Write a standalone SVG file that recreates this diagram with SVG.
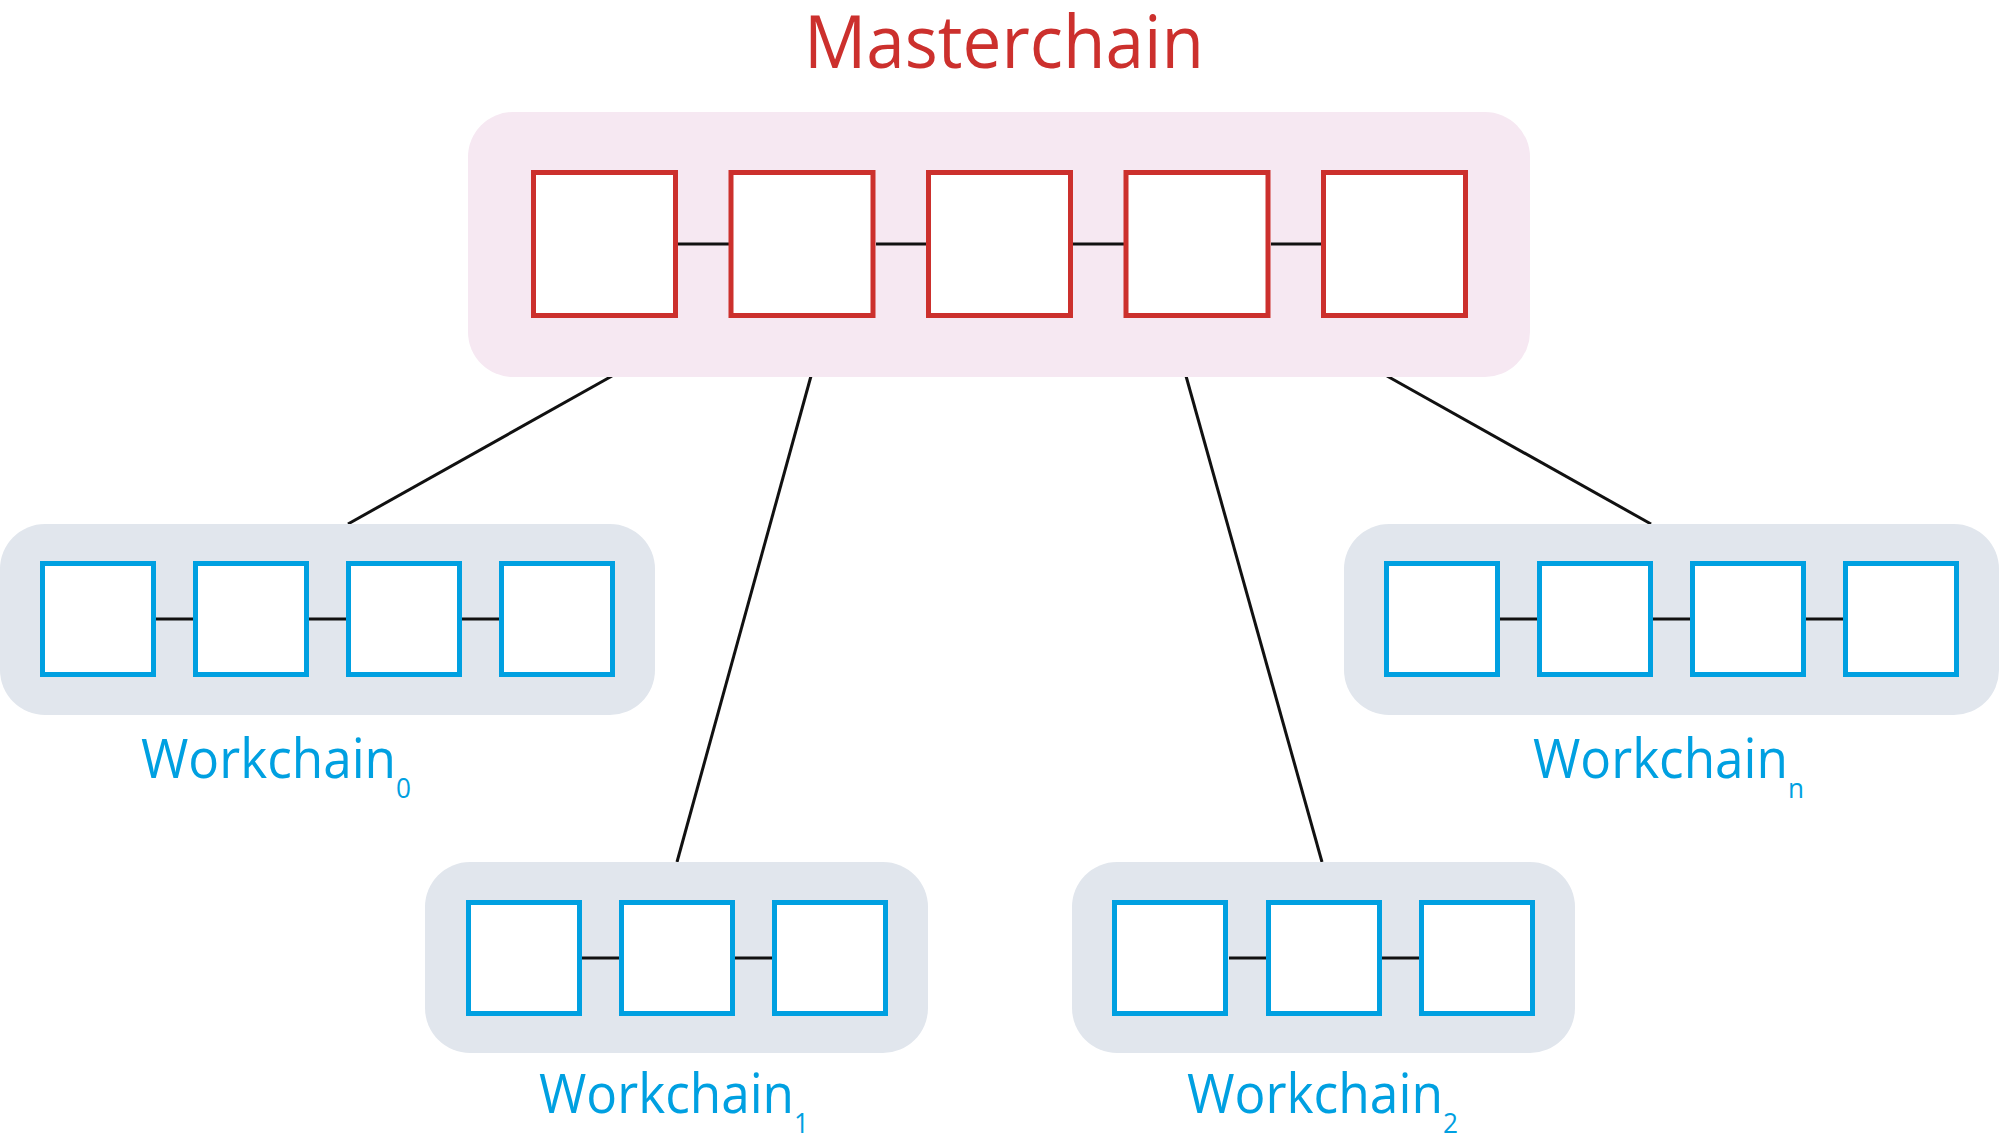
<svg xmlns="http://www.w3.org/2000/svg" width="1999" height="1148" viewBox="0 0 1999 1148">
<style>
.mc{fill:#f6e8f2}
.wc{fill:#e1e6ed}
.rb{fill:#fff;stroke:#cc302d;stroke-width:5}
.bb{fill:#fff;stroke:#00a0e1;stroke-width:5}
.ln{stroke:#111;stroke-width:3;fill:none}
.t{font-family:"Open Sans","Noto Sans","Liberation Sans",sans-serif}
.wt{fill:#00a0e1;font-size:55px}
.st{font-size:28px}
</style>
<rect width="1999" height="1148" fill="#fff"/>
<g id="connectors">
<line class="ln" x1="612" y1="376" x2="348" y2="524"/>
<line class="ln" x1="811" y1="376" x2="677" y2="862"/>
<line class="ln" x1="1186" y1="376" x2="1322" y2="862"/>
<line class="ln" x1="1387" y1="376" x2="1651" y2="524"/>
</g>
<g id="masterchain">
<text class="t" x="1004" y="68" text-anchor="middle" font-size="74" fill="#cc302d" textLength="400" lengthAdjust="spacingAndGlyphs">Masterchain</text>
<rect class="mc" x="468" y="112" width="1062" height="265" rx="45"/>
<line class="ln" x1="678" y1="244" x2="729" y2="244"/>
<line class="ln" x1="876" y1="244" x2="926" y2="244"/>
<line class="ln" x1="1073" y1="244" x2="1124" y2="244"/>
<line class="ln" x1="1271" y1="244" x2="1321" y2="244"/>
<rect class="rb" x="533.5" y="172.5" width="142" height="143"/>
<rect class="rb" x="731" y="172.5" width="142" height="143"/>
<rect class="rb" x="928.5" y="172.5" width="142" height="143"/>
<rect class="rb" x="1126" y="172.5" width="142" height="143"/>
<rect class="rb" x="1323.5" y="172.5" width="142" height="143"/>
</g>
<g id="workchain0">
<rect class="wc" x="0" y="524" width="655" height="191" rx="45"/>
<line class="ln" x1="156" y1="619" x2="193" y2="619"/>
<line class="ln" x1="309" y1="619" x2="346" y2="619"/>
<line class="ln" x1="462" y1="619" x2="499" y2="619"/>
<rect class="bb" x="42.5" y="563.5" width="111" height="111"/>
<rect class="bb" x="195.5" y="563.5" width="111" height="111"/>
<rect class="bb" x="348.5" y="563.5" width="111" height="111"/>
<rect class="bb" x="501.5" y="563.5" width="111" height="111"/>
<text class="t wt" x="141" y="778" textLength="270" lengthAdjust="spacingAndGlyphs">Workchain<tspan class="st" dy="20">0</tspan></text>
</g>
<g id="workchainn">
<rect class="wc" x="1344" y="524" width="655" height="191" rx="45"/>
<line class="ln" x1="1500" y1="619" x2="1537" y2="619"/>
<line class="ln" x1="1653" y1="619" x2="1690" y2="619"/>
<line class="ln" x1="1806" y1="619" x2="1843" y2="619"/>
<rect class="bb" x="1386.5" y="563.5" width="111" height="111"/>
<rect class="bb" x="1539.5" y="563.5" width="111" height="111"/>
<rect class="bb" x="1692.5" y="563.5" width="111" height="111"/>
<rect class="bb" x="1845.5" y="563.5" width="111" height="111"/>
<text class="t wt" x="1533" y="778" textLength="271" lengthAdjust="spacingAndGlyphs">Workchain<tspan class="st" dy="20">n</tspan></text>
</g>
<g id="workchain1">
<rect class="wc" x="425" y="862" width="503" height="191" rx="45"/>
<line class="ln" x1="582" y1="958" x2="619" y2="958"/>
<line class="ln" x1="735" y1="958" x2="772" y2="958"/>
<rect class="bb" x="468.5" y="902.5" width="111" height="111"/>
<rect class="bb" x="621.5" y="902.5" width="111" height="111"/>
<rect class="bb" x="774.5" y="902.5" width="111" height="111"/>
<text class="t wt" x="539" y="1113" textLength="270" lengthAdjust="spacingAndGlyphs">Workchain<tspan class="st" dy="20">1</tspan></text>
</g>
<g id="workchain2">
<rect class="wc" x="1072" y="862" width="503" height="191" rx="45"/>
<line class="ln" x1="1229" y1="958" x2="1266" y2="958"/>
<line class="ln" x1="1382" y1="958" x2="1419" y2="958"/>
<rect class="bb" x="1114.5" y="902.5" width="111" height="111"/>
<rect class="bb" x="1268.5" y="902.5" width="111" height="111"/>
<rect class="bb" x="1421.5" y="902.5" width="111" height="111"/>
<text class="t wt" x="1187" y="1113" textLength="271" lengthAdjust="spacingAndGlyphs">Workchain<tspan class="st" dy="20">2</tspan></text>
</g>
</svg>
